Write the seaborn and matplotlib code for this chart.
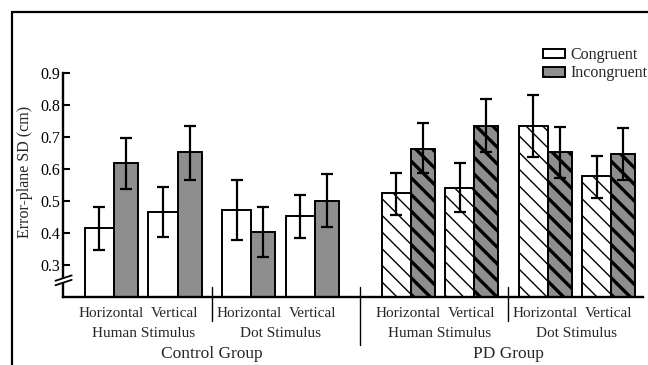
import numpy as np
import pandas as pd
import matplotlib
matplotlib.use("Agg")
import matplotlib.pyplot as plt
import matplotlib.transforms as mtransforms
from matplotlib.lines import Line2D
from matplotlib.patches import Patch, Polygon
import seaborn as sns

# ---------------- data ----------------
groups = ["Control Group", "PD Group"]
stimuli = ["Human Stimulus", "Dot Stimulus"]
orientations = ["Horizontal", "Vertical"]
legend_labels = ["Congruent", "Incongruent"]

# order: Control-Human-H, Control-Human-V, Control-Dot-H, Control-Dot-V, PD-Human-H, PD-Human-V, PD-Dot-H, PD-Dot-V
congruent = [0.415, 0.465, 0.472, 0.452, 0.524, 0.542, 0.735, 0.577]
congruent_lo = [0.348, 0.386, 0.378, 0.385, 0.457, 0.467, 0.639, 0.510]
congruent_hi = [0.480, 0.543, 0.567, 0.519, 0.589, 0.620, 0.831, 0.642]
incongruent = [0.618, 0.652, 0.404, 0.501, 0.664, 0.733, 0.652, 0.648]
incongruent_lo = [0.539, 0.567, 0.326, 0.420, 0.586, 0.652, 0.573, 0.567]
incongruent_hi = [0.697, 0.735, 0.482, 0.583, 0.743, 0.818, 0.730, 0.727]

y_ticks = [0.3, 0.4, 0.5, 0.6, 0.7, 0.8, 0.9]
y_label = "Error-plane SD (cm)"

# ---------------- layout ----------------
step_within, step_stim, step_group = 1.0, 1.16, 1.51
steps = [0, step_within, step_stim, step_within, step_group, step_within, step_stim, step_within]
pair_left = np.cumsum(steps)
w_c, w_i = 0.457, 0.378
x_cong = pair_left + w_c / 2
x_incong = pair_left + w_c + w_i / 2

rows = []
k = 0
for g in groups:
    for s in stimuli:
        for o in orientations:
            rows.append(dict(group=g, stimulus=s, orientation=o, condition="Congruent",
                             x=x_cong[k], value=congruent[k], lo=congruent_lo[k], hi=congruent_hi[k]))
            rows.append(dict(group=g, stimulus=s, orientation=o, condition="Incongruent",
                             x=x_incong[k], value=incongruent[k], lo=incongruent_lo[k], hi=incongruent_hi[k]))
            k += 1
df = pd.DataFrame(rows)

sns.set_theme(style="white")
plt.rcParams["font.family"] = ["Liberation Serif", "DejaVu Serif"]
plt.rcParams["hatch.linewidth"] = 1.0

fig = plt.figure(figsize=(6.48, 3.65), dpi=100)
ax = fig.add_axes([63 / 648, 1 - 297 / 365, (643 - 63) / 648, 224 / 365])

gray = "#8e8e8e"
thick_hatch = 2.4
for cond, color, width in [("Congruent", "white", w_c), ("Incongruent", gray, w_i)]:
    sub = df[df.condition == cond]
    sns.barplot(data=sub, x="x", y="value", native_scale=True, orient="x", width=width,
                color=color, saturation=1, edgecolor="black", linewidth=1.4,
                errorbar=None, ax=ax)
    bars = ax.containers[-1]
    for patch, grp in zip(bars, sub.group):
        if grp == "PD Group":
            patch.set_hatch("\\\\")
            if cond == "Incongruent":
                try:
                    patch.set_hatch_linewidth(thick_hatch)
                except AttributeError:
                    pass
    ax.errorbar(sub.x, sub.value, yerr=[sub.value - sub.lo, sub.hi - sub.value],
                fmt="none", ecolor="black", elinewidth=1.6, capsize=4.3, capthick=1.6, zorder=5)

ax.set_xlim(-0.346, 8.787)
ax.set_ylim(0.2, 0.9)
ax.set_yticks(y_ticks)
ax.set_yticklabels([f"{t:.1f}" for t in y_ticks], fontsize=11.5)
ax.set_xticks([])
ax.set_xlabel("")
ax.set_ylabel(y_label, fontsize=11.5)
ax.yaxis.set_label_coords(-0.052, 0.56)
ax.tick_params(axis="y", direction="in", length=5, width=1.5, pad=2, left=True, colors="black")
for side in ["top", "right"]:
    ax.spines[side].set_visible(False)
for side in ["left", "bottom"]:
    ax.spines[side].set_linewidth(1.7)
    ax.spines[side].set_color("black")

# axis break marks
by = (297 - 283) / 224
ax.add_patch(Polygon([[-0.012, by - 0.010], [0.014, by + 0.012], [0.014, by + 0.032], [-0.012, by + 0.010]],
                     closed=True, transform=ax.transAxes, facecolor="white", edgecolor="none",
                     clip_on=False, zorder=6))
for off in (-0.010, 0.010):
    ax.add_line(Line2D([-0.013, 0.015], [by + off, by + off + 0.024], transform=ax.transAxes,
                       color="black", lw=1.3, clip_on=False, zorder=7))

# separators and labels
trans = mtransforms.blended_transform_factory(ax.transData, ax.transAxes)
pair_center = pair_left + (w_c + w_i) / 2
sep_ctrl = (pair_left[1] + w_c + w_i + pair_left[2]) / 2
sep_grp = (pair_left[3] + w_c + w_i + pair_left[4]) / 2
sep_pd = (pair_left[5] + w_c + w_i + pair_left[6]) / 2
top_y = (297 - 287) / 224
for xs, ybot in [(sep_ctrl, -0.105), (sep_pd, -0.105), (sep_grp, -0.215)]:
    ax.add_line(Line2D([xs, xs], [top_y, ybot], transform=trans, color="black", lw=1.0, clip_on=False))

for i in range(8):
    ax.text(pair_center[i], -0.072, orientations[i % 2], transform=trans, ha="center", va="center", fontsize=11)
for j in range(4):
    c = (pair_left[2 * j] + pair_left[2 * j + 1] + w_c + w_i) / 2
    ax.text(c, -0.162, stimuli[j % 2], transform=trans, ha="center", va="center", fontsize=11)
for j, xs in enumerate([sep_ctrl, sep_pd]):
    ax.text(xs, -0.255, groups[j], transform=trans, ha="center", va="center", fontsize=12.5)

# legend
h1 = Patch(facecolor="white", edgecolor="black", linewidth=1.4, label=legend_labels[0])
h2 = Patch(facecolor=gray, edgecolor="black", linewidth=1.4, hatch="\\", label=legend_labels[1])
leg = fig.legend(handles=[h1, h2], loc="upper right", bbox_to_anchor=(647 / 648, 1 - 47 / 365),
                 frameon=False, fontsize=11.5, handlelength=1.4, handleheight=0.55,
                 handletextpad=0.3, labelspacing=0.15, borderaxespad=0.0, borderpad=0.0)
try:
    leg.get_patches()[1].set_hatch_linewidth(thick_hatch)
except (AttributeError, IndexError):
    pass

# outer frame
fig.add_artist(Line2D([12 / 648, 1.0], [1 - 12 / 365, 1 - 12 / 365], transform=fig.transFigure, color="black", lw=1.6))
fig.add_artist(Line2D([12 / 648, 12 / 648], [0.0, 1 - 12 / 365], transform=fig.transFigure, color="black", lw=1.6))

fig.savefig("out.png", dpi=100)
